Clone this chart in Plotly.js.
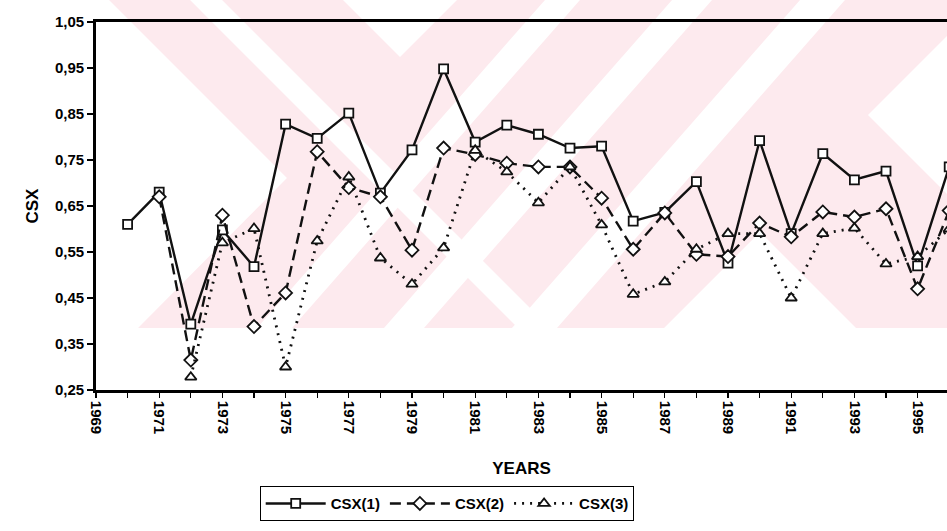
<!DOCTYPE html>
<html>
<head>
<meta charset="utf-8">
<script src="https://cdn.plot.ly/plotly-3.0.1.min.js"></script>
<style>html,body{margin:0;padding:0;background:#fff;}#chart{width:947px;height:531px;}</style>
</head>
<body>
<div id="chart"></div>
<script>
// ---- data ----
const years1 = [1970,1971,1972,1973,1974,1975,1976,1977,1978,1979,1980,1981,1982,1983,1984,1985,1986,1987,1988,1989,1990,1991,1992,1993,1994,1995,1996];
const csx1   = [0.610,0.680,0.393,0.598,0.518,0.828,0.797,0.852,0.678,0.772,0.948,0.789,0.826,0.806,0.776,0.780,0.617,0.636,0.703,0.526,0.792,0.590,0.764,0.707,0.726,0.520,0.735];
const years2 = [1971,1972,1973,1974,1975,1976,1977,1978,1979,1980,1981,1982,1983,1984,1985,1986,1987,1988,1989,1990,1991,1992,1993,1994,1995,1996];
const csx2   = [0.670,0.315,0.630,0.388,0.461,0.768,0.690,0.670,0.554,0.776,0.762,0.743,0.735,0.735,0.667,0.556,0.635,0.545,0.540,0.613,0.583,0.637,0.626,0.644,0.470,0.640];
const years3 = [1972,1973,1974,1975,1976,1977,1978,1979,1980,1981,1982,1983,1984,1985,1986,1987,1988,1989,1990,1991,1992,1993,1994,1995,1996];
const csx3   = [0.278,0.570,0.601,0.300,0.574,0.713,0.537,0.480,0.559,0.771,0.724,0.657,0.735,0.609,0.458,0.485,0.556,0.590,0.590,0.450,0.590,0.602,0.524,0.540,0.600];
const seriesNames = ['CSX(1)','CSX(2)','CSX(3)'];
const xTickVals = [1969,1971,1973,1975,1977,1979,1981,1983,1985,1987,1989,1991,1993,1995];
const xTickText = xTickVals.map(String);
const yTickVals = [0.25,0.35,0.45,0.55,0.65,0.75,0.85,0.95,1.05];

// ---- faint background watermark (pixel geometry -> paper coords) ----
const L = 96, R = 947, T = 22, B = 390;
function pxX(x){ return ((x - L) / (R - L)).toFixed(4); }
function pxY(y){ return ((B - y) / (B - T)).toFixed(4); }
function poly(pts, color){
  return {type:'path', xref:'paper', yref:'paper', layer:'below', line:{width:0}, fillcolor:color,
    path: 'M' + pts.map(p => pxX(p[0]) + ',' + pxY(p[1])).join(' L') + ' Z'};
}
function band(x0, x1, d){ // diagonal stripe from the top edge (y=0) to the pink's lower edge (y=328); d = horizontal shift
  return [[x0,0],[x1,0],[x1+d,328],[x0+d,328]];
}
const PINK = '#fdeaee', WHITE = '#ffffff';
const shapes = [
  poly([[109,0],[947,0],[947,328],[138,328],[287,178]], PINK),
  poly(band(190,222, 328), WHITE),
  poly(band(545,580,-288), WHITE),
  poly(band(672,712,-288), WHITE),
  poly(band(800,845,-288), WHITE),
  poly([[343,0],[457,0],[400,57]], WHITE),
  poly([[664,328],[856,328],[760,232]], WHITE),
  poly([[947,36],[868,115],[947,194]], WHITE)
];

const font = {family:'Liberation Sans, Arial, sans-serif', color:'#000'};
const traces = [
  {x:years1, y:csx1, name:seriesNames[0], type:'scatter', mode:'lines+markers',
   line:{color:'#111', width:2.4, dash:'solid'},
   marker:{symbol:'square', size:9, color:'#fff', line:{color:'#111', width:1.8}}},
  {x:years2, y:csx2, name:seriesNames[1], type:'scatter', mode:'lines+markers',
   line:{color:'#111', width:2.4, dash:'11px,6px'},
   marker:{symbol:'diamond', size:10, color:'#fff', line:{color:'#111', width:1.8}}},
  {x:years3, y:csx3, name:seriesNames[2], type:'scatter', mode:'lines+markers',
   line:{color:'#111', width:2.8, dash:'2px,6px'},
   marker:{symbol:'triangle-up', size:10, color:'#fff', line:{color:'#111', width:1.8}}}
];

const layout = {
  width:947, height:531,
  margin:{l:L, r:0, t:T, b:531-B, pad:0},
  paper_bgcolor:'#fff', plot_bgcolor:'rgba(0,0,0,0)',
  separators:',.',
  showlegend:true,
  shapes: shapes,
  xaxis:{
    range:[1969, 1969 + (R-L)/31.6], autorange:false,
    tickmode:'array', tickvals:xTickVals, ticktext:xTickText, tickangle:90,
    ticks:'outside', ticklen:5, tickwidth:1.2, tickcolor:'#000',
    minor:{dtick:1, tick0:1969, ticks:'outside', ticklen:5, tickwidth:1.2, tickcolor:'#000'},
    showline:true, linecolor:'#000', linewidth:2.8, mirror:true,
    showgrid:false, zeroline:false,
    tickfont:Object.assign({size:15, weight:'bold'}, font),
    title:{text:'YEARS', font:Object.assign({size:17, weight:'bold'}, font), standoff:29},
    automargin:false
  },
  yaxis:{
    range:[0.25,1.05], autorange:false,
    tickmode:'array', tickvals:yTickVals, tickformat:'.2f',
    ticks:'outside', ticklen:6, tickwidth:1.2, tickcolor:'#000',
    showline:true, linecolor:'#000', linewidth:2.8,
    showgrid:false, zeroline:false,
    tickfont:Object.assign({size:15, weight:'bold'}, font),
    title:{text:'CSX', font:Object.assign({size:17, weight:'bold'}, font), standoff:12},
    automargin:false
  },
  legend:{
    orientation:'h', x:(447-L)/(R-L), xanchor:'center', y:(B-486)/(B-T), yanchor:'top',
    bordercolor:'#000', borderwidth:1.2, bgcolor:'#fff',
    font:Object.assign({size:15, weight:'bold'}, font), itemwidth:60, tracegroupgap:0
  }
};

Plotly.newPlot('chart', traces, layout, {displayModeBar:false, staticPlot:true});
</script>
</body>
</html>
